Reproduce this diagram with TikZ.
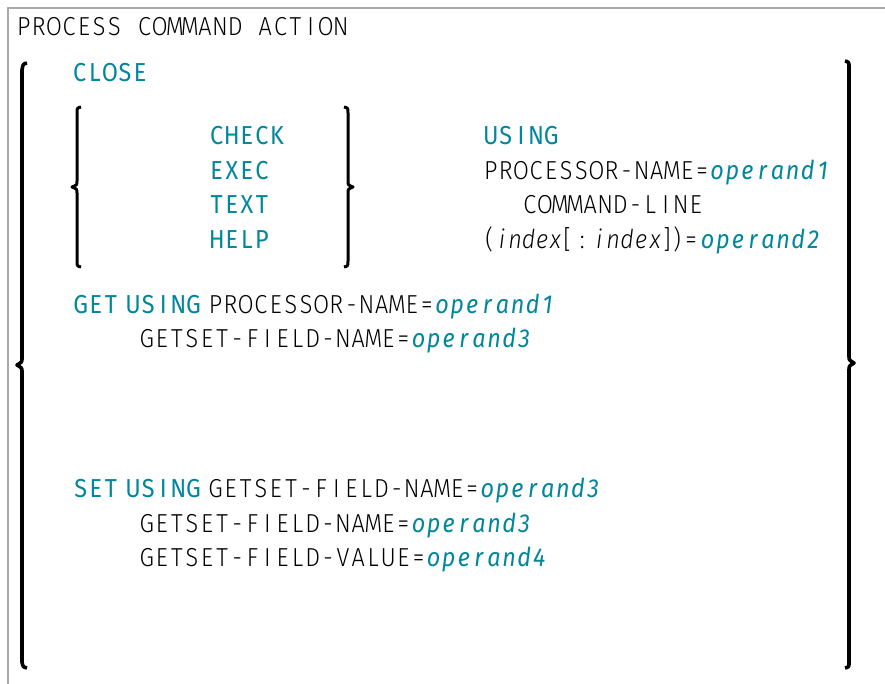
\documentclass[tikz,border=0pt]{standalone}
\usepackage{fontspec}
\setmainfont{Fira Sans}[UprightFont={* Light}, ItalicFont={* Light Italic}, BoldFont={*}, BoldItalicFont={* Italic}, FakeStretch=0.9]
\definecolor{kw}{RGB}{0,135,155}
\definecolor{frame}{RGB}{170,170,170}
\newlength\monocw
\setlength\monocw{15.1pt}
\def\monotext#1{\monoloop#1\relax}
\def\monoloop#1{\ifx#1\relax\else\makebox[\monocw][c]{#1}\expandafter\monoloop\fi}
\newcommand\kwtext[1]{\textcolor{kw}{\bfseries\monotext{#1}}}
\newcommand\optext[1]{\textcolor{kw}{\bfseries\itshape\monotext{#1}}}
\newcommand\cell[2]{\makebox[#1pt][c]{#2}}
\begin{document}
\begin{tikzpicture}[x=1pt,y=-1pt,
  txt/.style={anchor=base west, inner sep=0pt, font=\fontsize{26}{30}\selectfont},
  bigbrace/.style={line width=3.6pt, line join=round},
  smallbrace/.style={line width=3pt, line join=round}]
\useasboundingbox (0,0) rectangle (885,684);
% frame
\draw[frame, line width=2pt] (8,684) -- (8,8) -- (885,8);
% header
\node[txt] (head) at (16,36) {\monotext{PROCESS~COMMAND~ACTION}};
% big braces
\draw[bigbrace] (27,63) .. controls (23,64) .. (22,70) -- (22,358) .. controls (22,362) .. (17,365) .. controls (22,368) .. (22,372) -- (22,662) .. controls (23,667) .. (27,668);
\draw[bigbrace] (845,61) .. controls (849,62) .. (849,68) -- (849,356) .. controls (849,360) .. (854,363) .. controls (849,366) .. (849,370) -- (849,662) .. controls (849,667) .. (845,668);
% inner braces
\draw[smallbrace] (81,107) .. controls (77,108) .. (77,113) -- (77,181) .. controls (77,185) .. (72,187) .. controls (77,189) .. (77,193) -- (77,261) .. controls (77,266) .. (81,267);
\draw[smallbrace] (344,107) .. controls (348,108) .. (348,113) -- (348,181) .. controls (348,185) .. (353,187) .. controls (348,189) .. (348,193) -- (348,261) .. controls (348,266) .. (344,267);
% CLOSE
\node[txt] (close) at (72,82) {\kwtext{CLOSE}};
% choices
\node[txt] (check) at (209,145) {\kwtext{CHECK}};
\node[txt] (exec) at (209,180) {\kwtext{EXEC}};
\node[txt] (text) at (209,214) {\kwtext{TEXT}};
\node[txt] (help) at (209,249) {\kwtext{HELP}};
% using part
\node[txt] (using) at (483,145) {\kwtext{USING}};
\node[txt] (pname) at (483,180) {\monotext{PROCESSOR-NAME=}\optext{operand1}};
\node[txt] (cline) at (522,214) {\monotext{COMMAND-LINE}};
\node[txt] (idx) at (483,249) {\cell{12}{(}{\itshape\setlength\monocw{13.4pt}\monotext{index}}\cell{10}{[}\cell{20}{:}{\itshape\setlength\monocw{14pt}\monotext{index}}\cell{10}{]}\cell{10}{)}\cell{18}{=}\optext{operand2}};
% GET
\node[txt] (get) at (73,313) {\kwtext{GET}\hspace{7pt}\kwtext{USING}\hspace{7pt}\monotext{PROCESSOR-NAME=}\optext{operand1}};
\node[txt] (getf) at (139,347) {\monotext{GETSET-FIELD-NAME=}\optext{operand3}};
% SET
\node[txt] (set) at (73,497) {\kwtext{SET}\hspace{7pt}\kwtext{USING}\hspace{7pt}\monotext{GETSET-FIELD-NAME=}\optext{operand3}};
\node[txt] (setf) at (139,532) {\monotext{GETSET-FIELD-NAME=}\optext{operand3}};
\node[txt] (setv) at (139,566) {\monotext{GETSET-FIELD-VALUE=}\optext{operand4}};
\end{tikzpicture}
\end{document}
